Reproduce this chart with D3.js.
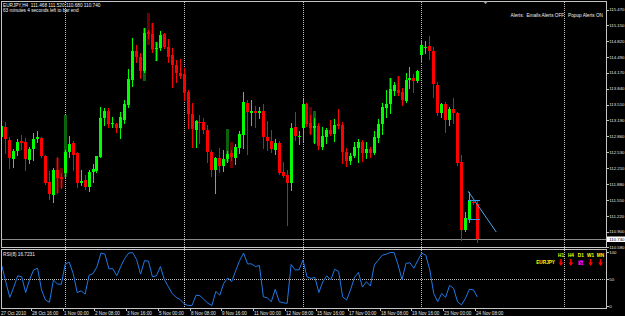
<!DOCTYPE html>
<html><head><meta charset="utf-8">
<script src="https://cdn.jsdelivr.net/npm/d3@7"></script>
<style>html,body{margin:0;padding:0;background:#000;overflow:hidden}svg{display:block}</style>
</head><body>
<script>
// ---------- data ----------
const firstBar = -16;
const open  = [112.85,113.05,112.79,112.40,112.56,112.77,112.75,112.37,112.60,112.81,112.83,112.46,111.92,111.65,112.17,112.02,
  112.11,112.54,112.72,112.52,111.90,111.96,111.82,112.13,112.15,112.44,
  113.24,113.38,113.12,113.12,113.03,113.20,113.51,114.02,114.62,114.50,
  114.21,115.01,114.97,114.66,114.68,114.97,114.70,114.54,114.33,114.17,
  114.15,113.77,113.32,112.99,113.16,113.16,112.99,112.54,112.17,112.42,
  112.25,112.40,112.52,112.42,112.62,112.89,113.55,113.34,113.38,113.34,
  113.38,112.85,112.77,112.58,112.72,112.13,112.07,111.90,113.05,112.85,
  113.03,113.53,113.14,113.03,113.07,112.64,112.85,112.99,112.91,113.12,
  113.10,112.54,112.35,112.46,112.62,112.75,112.52,112.60,112.52,112.83,
  113.12,113.45,113.53,113.79,113.81,113.77,113.59,114.02,114.06,114.00,
  114.54,114.68,114.72,114.62,113.92,113.34,113.53,113.20,113.42,113.34,
  112.33,110.93,111.14,111.51,111.468];
const high  = [113.12,113.16,112.85,112.60,112.81,112.89,112.83,112.64,112.93,112.97,112.85,112.48,112.15,112.21,112.44,112.11,
  112.58,112.87,112.77,112.54,112.17,112.07,112.17,112.29,112.46,113.47,
  113.45,113.45,113.26,113.14,113.36,113.61,114.25,114.89,114.74,114.58,
  115.09,115.05,115.20,114.80,115.03,114.99,114.87,114.68,114.43,114.45,
  114.27,113.81,113.55,113.20,113.30,113.24,113.10,112.58,112.44,112.62,
  112.58,112.56,112.58,112.70,112.97,113.77,113.61,113.61,113.49,113.47,
  113.53,113.18,112.99,112.81,112.77,112.33,112.17,113.14,113.36,112.97,
  113.63,113.55,113.30,113.24,113.14,113.05,113.03,113.20,113.22,113.42,
  113.16,112.62,112.52,112.75,112.81,112.79,112.75,112.64,112.97,113.22,
  113.55,113.81,114.06,113.98,114.10,113.86,114.17,114.29,114.15,114.23,
  114.85,114.82,114.93,114.70,113.98,113.55,113.57,113.47,113.65,113.36,
  112.48,111.30,111.71,111.55,111.520];
const low   = [112.81,112.52,112.21,112.23,112.48,112.60,112.17,112.31,112.37,112.75,112.44,111.88,111.57,111.51,111.69,111.80,
  112.02,112.44,112.17,111.82,111.86,111.78,111.73,111.92,112.13,112.44,
  113.10,113.05,113.05,112.95,112.83,113.14,113.47,113.90,114.39,114.06,
  114.19,114.89,114.60,114.43,114.64,114.68,114.39,113.88,113.98,114.06,
  113.61,113.03,112.64,112.64,112.72,112.93,112.33,112.05,111.69,112.13,
  112.15,112.33,112.37,112.29,112.52,112.62,112.50,113.10,113.05,113.24,
  112.62,112.58,112.54,112.50,112.09,112.02,111.03,111.75,112.79,112.70,
  112.77,113.07,112.91,112.72,112.60,112.60,112.72,112.89,112.77,113.03,
  112.31,112.25,112.29,112.44,112.33,112.35,112.42,112.44,112.50,112.75,
  112.91,113.26,113.34,113.71,113.71,113.51,113.57,113.86,113.77,113.98,
  114.39,114.58,114.45,113.67,113.30,113.26,112.95,113.10,113.14,112.27,
  110.72,110.91,111.10,111.47,110.680];
const close = [113.07,112.81,112.42,112.56,112.75,112.72,112.40,112.60,112.81,112.85,112.46,111.90,111.67,112.17,112.00,111.98,
  112.54,112.70,112.48,111.90,111.94,111.82,112.13,112.19,112.46,113.24,
  113.38,113.12,113.14,113.03,113.26,113.53,114.04,114.62,114.50,114.21,
  114.99,114.97,114.66,114.68,114.95,114.70,114.50,114.33,114.17,114.11,
  113.75,113.32,113.01,113.18,113.14,112.99,112.54,112.17,112.42,112.25,
  112.40,112.50,112.44,112.64,112.91,113.57,113.36,113.38,113.34,113.38,
  112.85,112.77,112.60,112.72,112.11,112.05,111.90,113.03,112.87,112.87,
  113.53,113.12,113.03,113.07,112.66,112.87,112.99,112.91,113.10,113.07,
  112.54,112.35,112.46,112.64,112.75,112.52,112.60,112.52,112.85,113.12,
  113.47,113.53,113.84,113.92,113.75,113.61,114.02,114.06,114.00,114.21,
  114.74,114.70,114.62,113.94,113.34,113.53,113.20,113.42,113.34,112.31,
  110.93,111.18,111.53,111.49,110.740];
const rsi = [74,44,16,35,56,54,25,49,67,70,30,11,7,48,41,40,
  78,81,60,25,28,22,57,60,73,98,
  96,69,69,56,73,88,98,99,86,59,
  84,83,54,56,73,49,36,23,16,12,
  4,1,1,20,19,12,5,1,27,20,
  42,52,45,65,84,98,78,78,73,75,
  17,15,8,31,8,6,5,77,67,67,
  85,54,51,53,25,45,56,48,68,64,
  17,11,30,53,62,35,45,37,76,85,
  94,96,99,99,76,49,79,80,70,85,
  98,94,67,23,8,23,16,38,33,8,
  2,14,31,30,16.7231];
// darker overlay bars (bar index, top price, bottom price, bullish?)
const ghostIdx    = [-2,-1,0,20,21,22,23,41,42,62,63,82,84];
const ghostTop    = [112.42,112.21,113.30,115.09,115.40,115.20,114.80,113.01,112.75,113.47,113.38,114.06,114.10];
const ghostBottom = [111.69,111.80,112.02,114.00,114.74,114.64,114.41,112.33,112.21,112.91,112.72,113.77,113.75];
const ghostUp     = [false,false,true,true,false,false,true,true,false,false,true,true,false];

const priceTicks = [115.47,115.15,114.82,114.49,114.17,113.84,113.51,113.19,112.86,112.53,112.21,111.88,111.55,111.22,110.90,110.58];
const rsiTicks = [100,50,0];
const timeIdx = [-16,-8,0,8,16,24,32,40,48,56,64,72,80,88,96,104];
const timeLabels = ["27 Oct 2010","28 Oct 16:00","1 Nov 00:00","2 Nov 08:00","3 Nov 16:00","5 Nov 00:00","8 Nov 08:00","9 Nov 16:00",
  "11 Nov 00:00","12 Nov 08:00","15 Nov 16:00","17 Nov 00:00","18 Nov 08:00","19 Nov 16:00","23 Nov 00:00","24 Nov 08:00"];
const gridIdx = [0,30,60,90,126];
const bid = 110.740;
const trendIdx = [101.8,108.9], trendPrice = [111.73,110.89];
const levelIdx = [101.8,104.8], levelPrice = [111.55,111.155];
const tfLabels = ["H1","H4","D1","W1","MN"];
const tfDir = ["down","down","flat","down","down"];

// ---------- drawing ----------
const W=625,H=316;
const FONT = "'Liberation Sans', Arial, sans-serif";
const svg = d3.select("body").append("svg").attr("width",W).attr("height",H)
  .style("background","#000");
const bars = open.map((o,i)=>({k:firstBar+i,o,h:high[i],l:low[i],c:close[i]}));

const x = d3.scaleLinear().domain([-16,136]).range([1.4,603.6]);
const y = d3.scaleLinear().domain([110.56,115.64]).range([248,1.5]);
const yr = d3.scaleLinear().domain([0,100]).range([306,252]);
const px = k => Math.round(x(k));

const frame = "#c4c4c4";
svg.append("clipPath").attr("id","cm").append("rect").attr("x",2).attr("y",2).attr("width",604).attr("height",245);
svg.append("clipPath").attr("id","cr").append("rect").attr("x",2).attr("y",250).attr("width",604).attr("height",58);

// vertical dotted grid
svg.append("g").selectAll("line").data(gridIdx).join("line")
  .attr("x1",d=>px(d)+0.5).attr("x2",d=>px(d)+0.5).attr("y1",2).attr("y2",308)
  .attr("stroke","#bdbdbd").attr("stroke-dasharray","1,1").attr("shape-rendering","crispEdges");

// RSI 50 level
svg.append("line").attr("x1",2).attr("x2",606).attr("y1",Math.round(yr(50))+0.5).attr("y2",Math.round(yr(50))+0.5)
  .attr("stroke","#bdbdbd").attr("stroke-dasharray","1,1").attr("shape-rendering","crispEdges");

// bid line
svg.append("line").attr("x1",2).attr("x2",606).attr("y1",Math.round(y(bid))+0.5).attr("y2",Math.round(y(bid))+0.5)
  .attr("stroke","#8a8a8a").attr("shape-rendering","crispEdges");

const gMain = svg.append("g").attr("clip-path","url(#cm)").attr("shape-rendering","crispEdges");
const ghosts = ghostIdx.map((k,i)=>({k,t:ghostTop[i],b:ghostBottom[i],up:ghostUp[i]}));
gMain.selectAll("rect.gh").data(ghosts).join("rect").attr("class","gh")
  .attr("x",d=>px(d.k)-1).attr("width",3)
  .attr("y",d=>Math.round(y(d.t))).attr("height",d=>Math.max(1,Math.round(y(d.b))-Math.round(y(d.t))))
  .attr("fill",d=>d.up?"#0b640b":"#6a0000");
gMain.selectAll("line.w").data(bars).join("line").attr("class","w")
  .attr("x1",d=>px(d.k)+0.5).attr("x2",d=>px(d.k)+0.5)
  .attr("y1",d=>Math.round(y(d.h))).attr("y2",d=>Math.round(y(d.l))+1)
  .attr("stroke",d=>d.c>=d.o?"#00ff00":"#ff0000");
gMain.selectAll("rect.b").data(bars).join("rect").attr("class","b")
  .attr("x",d=>px(d.k)-1).attr("width",3)
  .attr("y",d=>Math.round(y(Math.max(d.o,d.c))))
  .attr("height",d=>Math.max(1,Math.round(y(Math.min(d.o,d.c)))-Math.round(y(Math.max(d.o,d.c)))))
  .attr("fill",d=>d.c>=d.o?"#00ff00":"#ff0000");

// trend line + levels
const gT = svg.append("g").attr("clip-path","url(#cm)");
gT.append("line").attr("x1",x(trendIdx[0])).attr("y1",y(trendPrice[0])).attr("x2",x(trendIdx[1])).attr("y2",y(trendPrice[1]))
  .attr("stroke","#49a7f0").attr("stroke-width",1);
gT.selectAll("line.lv").data(levelPrice).join("line").attr("class","lv")
  .attr("x1",x(levelIdx[0])).attr("x2",x(levelIdx[1])).attr("y1",d=>Math.round(y(d))+0.5).attr("y2",d=>Math.round(y(d))+0.5)
  .attr("stroke","#2f9cf0").attr("shape-rendering","crispEdges");

// RSI line
const gR = svg.append("g").attr("clip-path","url(#cr)");
gR.append("path").datum(rsi).attr("fill","none").attr("stroke","#1f78e6").attr("stroke-width",1)
  .attr("d",d3.line().x((d,i)=>x(firstBar+i)+0.5).y(d=>yr(d)));

// frames
const fr = svg.append("g").attr("fill","none").attr("stroke",frame).attr("shape-rendering","crispEdges");
fr.append("rect").attr("x",1.5).attr("y",1.5).attr("width",605).attr("height",246);
fr.append("rect").attr("x",1.5).attr("y",249.5).attr("width",605).attr("height",59);

// right price axis
const AX = "4.3px";
const gA = svg.append("g").attr("font-family",FONT).attr("font-size",AX).attr("fill","#e6e6e6");
gA.selectAll("line").data(priceTicks).join("line")
  .attr("x1",607).attr("x2",609).attr("y1",d=>Math.round(y(d))+0.5).attr("y2",d=>Math.round(y(d))+0.5)
  .attr("stroke",frame).attr("shape-rendering","crispEdges");
gA.selectAll("text").data(priceTicks).join("text")
  .attr("x",609.3).attr("y",d=>y(d)+1.6).text(d3.format(".3f"));
svg.append("rect").attr("x",607).attr("y",Math.round(y(bid))-2.5).attr("width",18).attr("height",5.5).attr("fill","#fff");
svg.append("text").attr("x",609.3).attr("y",y(bid)+1.7).attr("font-family",FONT).attr("font-size",AX)
  .attr("fill","#000").text(d3.format(".3f")(bid));
const gB = svg.append("g").attr("font-family",FONT).attr("font-size",AX).attr("fill","#e6e6e6");
gB.selectAll("line").data(rsiTicks).join("line")
  .attr("x1",607).attr("x2",609).attr("y1",d=>Math.round(yr(d))+0.5).attr("y2",d=>Math.round(yr(d))+0.5)
  .attr("stroke",frame).attr("shape-rendering","crispEdges");
gB.selectAll("text").data(rsiTicks).join("text").attr("x",609.3).attr("y",d=>yr(d)+1.6).text(d=>d);

// time axis
const gX = svg.append("g").attr("font-family",FONT).attr("font-size","4.6px").attr("fill","#e6e6e6");
gX.selectAll("line").data(timeIdx).join("line")
  .attr("x1",d=>px(d)-1.5).attr("x2",d=>px(d)-1.5).attr("y1",309).attr("y2",311)
  .attr("stroke",frame).attr("shape-rendering","crispEdges");
gX.selectAll("text").data(timeIdx).join("text")
  .attr("x",d=>Math.max(1,px(d)-1)).attr("y",314.5).text((d,i)=>timeLabels[i]);

// header texts
const gH = svg.append("g").attr("font-family",FONT).attr("font-size","4.7px").attr("fill","#f0f0f0");
const f3 = d3.format(".3f"), n = open.length-1;
gH.append("text").attr("x",3).attr("y",6.8).attr("xml:space","preserve")
  .text(`EURJPY,H4  ${f3(open[n])} ${f3(high[n])} ${f3(low[n])} ${f3(close[n])}`);
gH.append("text").attr("x",3).attr("y",11.8).text("63 minutes 4 seconds left to bar end");
gH.append("text").attr("x",603).attr("y",16.5).attr("text-anchor","end").attr("xml:space","preserve")
  .text("Alerts:  Emails Alerts OFF   Popup Alerts ON");
gH.append("text").attr("x",3).attr("y",256).text(`RSI(8) ${d3.format(".4f")(rsi[rsi.length-1])}`);

// shift marker
const sx = px(106)+0.5;
svg.append("path").attr("d",`M${sx-2.5},1.5 L${sx+2.5},1.5 L${sx},4 Z`).attr("fill","#a0a0a0");

// timeframe trend panel
const tfX = d3.scalePoint().domain(tfLabels).range([561,600.5]);
const gP = svg.append("g").attr("font-family",FONT).attr("font-size","4.7px").attr("font-weight","bold");
gP.selectAll("text.tf").data(tfLabels).join("text").attr("class","tf")
  .attr("x",d=>tfX(d)).attr("y",256.5).attr("text-anchor","middle").attr("fill","#ffff00").text(d=>d);
gP.append("text").attr("x",555).attr("y",264).attr("text-anchor","end").attr("fill","#ffff00").text("EURJPY");
// arrows
const downArrow = cx => `M${cx-0.8},259 L${cx+0.8},259 L${cx+0.8},262.5 L${cx+2.3},262.5 L${cx},266 L${cx-2.3},262.5 L${cx-0.8},262.5 Z`;
gP.selectAll("path.ar").data(tfLabels.filter((d,i)=>tfDir[i]==="down")).join("path").attr("class","ar")
  .attr("d",d=>downArrow(tfX(d))).attr("fill","#ff0000");
gP.selectAll("g.fl").data(tfLabels.filter((d,i)=>tfDir[i]==="flat")).join("g").attr("class","fl")
  .each(function(d){
    const g=d3.select(this), cx=tfX(d);
    g.append("rect").attr("x",cx-2.3).attr("y",260.5).attr("width",4.6).attr("height",4.5).attr("fill","#ff00ff");
    g.append("path").attr("d",`M${cx-1.3},261.5 L${cx+1.2},264 M${cx+1.2},262.3 L${cx+1.2},264 L${cx-0.5},264`)
      .attr("stroke","#000").attr("stroke-width",0.7).attr("fill","none");
  });
</script>
</body></html>
